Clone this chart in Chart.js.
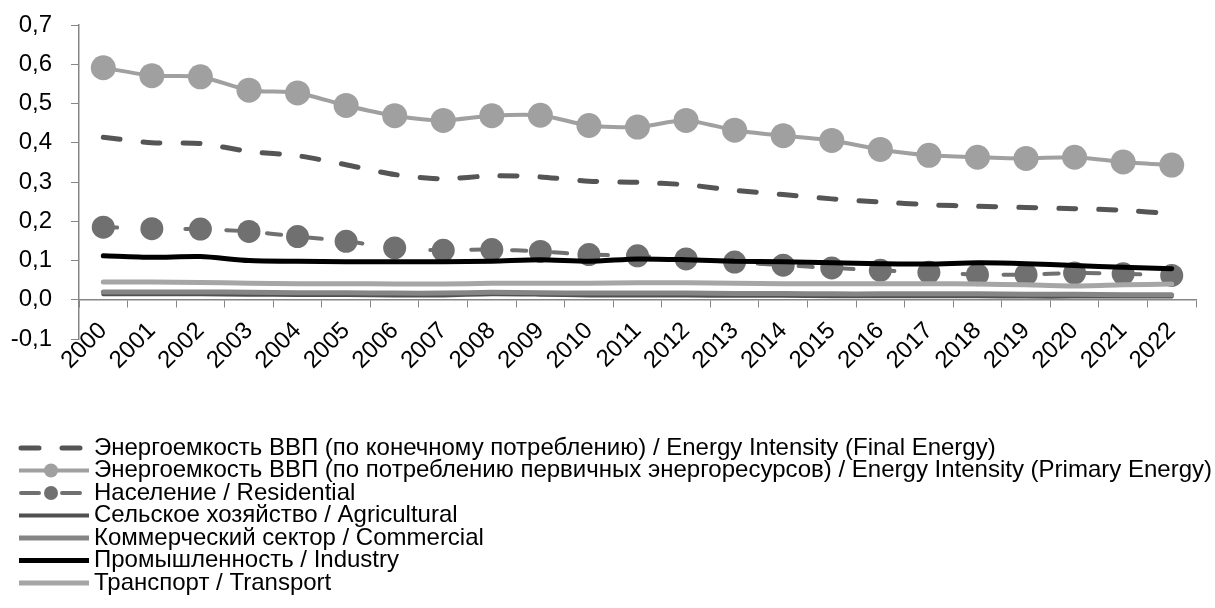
<!DOCTYPE html>
<html>
<head>
<meta charset="utf-8">
<script src="https://cdn.jsdelivr.net/npm/chart.js@4.4.1/dist/chart.umd.min.js"></script>
<style>
  html, body { margin: 0; padding: 0; background: #fff; }
</style>
</head>
<body>
<canvas id="myChart" width="1215" height="608"></canvas>
<script>
var years = ['2000','2001','2002','2003','2004','2005','2006','2007','2008','2009','2010',
             '2011','2012','2013','2014','2015','2016','2017','2018','2019','2020','2021','2022'];

var finalEnergy = [0.414,0.400,0.398,0.378,0.367,0.344,0.319,0.308,0.316,0.313,0.302,0.299,
                   0.293,0.279,0.268,0.257,0.249,0.242,0.238,0.235,0.232,0.228,0.219];
var primaryEnergy = [0.591,0.571,0.568,0.534,0.527,0.495,0.469,0.457,0.469,0.470,0.444,0.440,
                     0.457,0.432,0.418,0.406,0.383,0.368,0.363,0.360,0.363,0.351,0.343];
var residential = [0.185,0.181,0.180,0.174,0.161,0.149,0.132,0.126,0.128,0.123,0.115,0.112,
                   0.104,0.096,0.088,0.081,0.075,0.070,0.064,0.064,0.068,0.066,0.062];
var agricultural = [0.014,0.014,0.014,0.013,0.012,0.012,0.011,0.011,0.014,0.013,0.011,0.011,
                    0.011,0.010,0.010,0.009,0.009,0.009,0.009,0.008,0.008,0.008,0.008];
var commercial = [0.020,0.020,0.020,0.019,0.018,0.018,0.017,0.017,0.019,0.018,0.017,0.017,
                  0.017,0.016,0.016,0.015,0.015,0.015,0.015,0.014,0.014,0.013,0.013];
var industry = [0.112,0.108,0.110,0.100,0.098,0.097,0.097,0.097,0.098,0.102,0.098,0.104,
                0.102,0.098,0.097,0.094,0.092,0.091,0.094,0.092,0.087,0.083,0.079];
var transport = [0.045,0.045,0.044,0.042,0.041,0.041,0.040,0.040,0.042,0.042,0.042,0.043,
                 0.043,0.042,0.041,0.041,0.041,0.041,0.040,0.038,0.035,0.038,0.040];

var seriesNames = [
  'Энергоемкость ВВП (по конечному потреблению) / Energy Intensity (Final Energy)',
  'Энергоемкость ВВП (по потреблению первичных энергоресурсов) / Energy Intensity (Primary Energy)',
  'Население / Residential',
  'Сельское хозяйство / Agricultural',
  'Коммерческий сектор / Commercial',
  'Промышленность / Industry',
  'Транспорт / Transport'
];

var FONT = '"Liberation Sans", Arial, sans-serif';

function line(i, data, color, width, dash, radius) {
  return {
    label: seriesNames[i],
    data: data,
    borderColor: color,
    backgroundColor: color,
    borderWidth: width,
    borderDash: dash,
    borderCapStyle: 'round',
    borderJoinStyle: 'round',
    pointRadius: radius,
    pointBorderWidth: 0,
    pointBackgroundColor: color,
    tension: 0.25,
    order: 7 - i
  };
}

var datasets = [
  line(0, finalEnergy, '#555555', 5, [17, 23], 0),
  line(1, primaryEnergy, '#a0a0a0', 4, [], 12.5),
  line(2, residential, '#707070', 4, [14, 27], 11.5),
  line(3, agricultural, '#505050', 4, [], 0),
  line(4, commercial, '#858585', 5, [], 0),
  line(5, industry, '#000000', 5, [], 0),
  line(6, transport, '#a6a6a6', 5, [], 0)
];

// legend under the chart, one series per row
var legendRows = {
  id: 'legendRows',
  afterDraw: function(chart) {
    var ctx = chart.ctx;
    var x0 = 17, x1 = 89, tx = 94, y = 448, step = 22.5;
    ctx.save();
    chart.data.datasets.forEach(function(ds) {
      ctx.strokeStyle = ds.borderColor;
      ctx.lineWidth = ds.borderWidth;
      ctx.lineCap = ds.borderDash.length ? 'round' : 'butt';
      ctx.setLineDash(ds.borderDash.length ? [18, 23] : []);
      ctx.lineDashOffset = -2;
      ctx.beginPath();
      ctx.moveTo(x0 + 2, y);
      ctx.lineTo(x1, y);
      ctx.stroke();
      if (ds.pointRadius) {
        ctx.fillStyle = ds.borderColor;
        ctx.beginPath();
        ctx.arc(51, y, 7, 0, Math.PI * 2);
        ctx.fill();
      }
      ctx.setLineDash([]);
      ctx.fillStyle = '#000';
      ctx.font = '24px ' + FONT;
      ctx.textBaseline = 'middle';
      ctx.textAlign = 'left';
      ctx.fillText(ds.label, tx, y);
      y += step;
    });
    ctx.restore();
  }
};

var ctx = document.getElementById('myChart').getContext('2d');
var myChart = new Chart(ctx, {
  type: 'line',
  data: { labels: years, datasets: datasets },
  options: {
    responsive: false,
    animation: false,
    events: [],
    layout: { padding: { top: 25, right: 19, bottom: 269, left: 0 } },
    plugins: { legend: { display: false }, tooltip: { enabled: false } },
    scales: {
      x: {
        position: { y: 0 },
        offset: true,
        grid: { drawOnChartArea: false, offset: true, color: '#868686', tickLength: 7 },
        border: { color: '#868686', width: 1.5 },
        ticks: {
          autoSkip: false, minRotation: 45, maxRotation: 45, padding: 10,
          color: '#000', font: { family: FONT, size: 24 }
        }
      },
      y: {
        min: -0.1,
        max: 0.7,
        afterFit: function(s) {
          s.width = 79;
          s.paddingTop = 0;
          s.paddingBottom = 0;
        },
        grid: { drawOnChartArea: false, color: '#868686', tickLength: 8 },
        border: { color: '#868686', width: 1.5 },
        ticks: {
          stepSize: 0.1, padding: 19, color: '#000', font: { family: FONT, size: 24 },
          callback: function(v) {
            if (Math.abs(v) < 1e-9) v = 0;
            return v.toFixed(1).replace('.', ',');
          }
        }
      }
    }
  },
  plugins: [legendRows]
});
</script>
</body>
</html>
